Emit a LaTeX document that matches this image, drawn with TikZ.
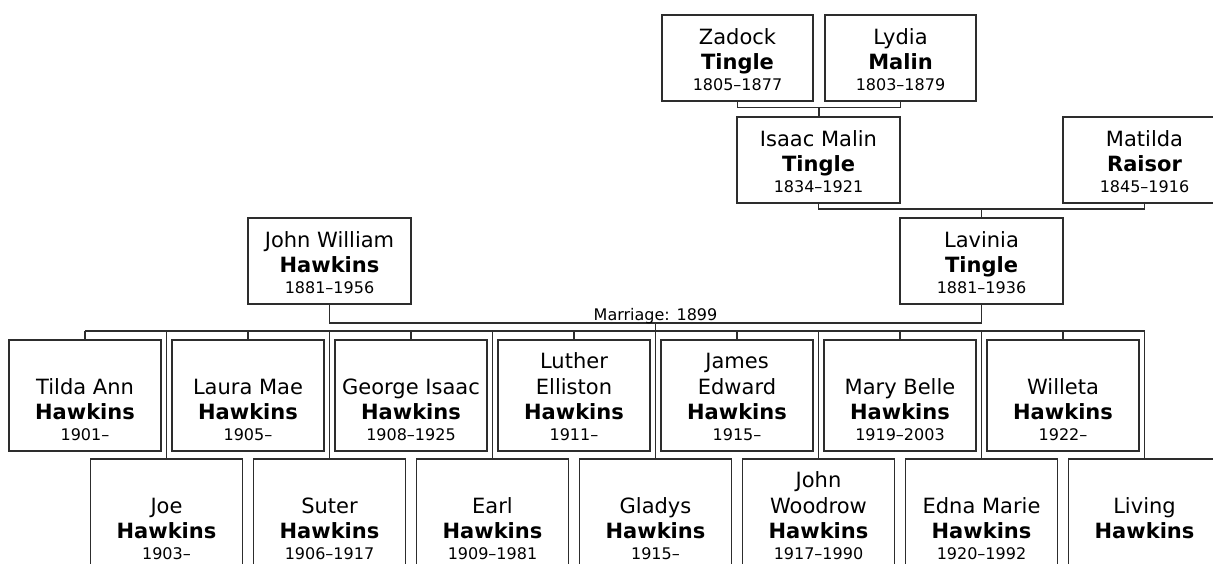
\documentclass[tikz,border=0pt]{standalone}
\usepackage{fontspec}
\setmainfont{DejaVu Sans}
\definecolor{lc}{RGB}{45,45,45}
\newcommand\pcontent[4]{\parbox[c][#2][b]{#1}{\centering\fontsize{21}{25.6}\selectfont #3\par{\fontsize{16}{21}\selectfont #4\par}\vspace*{10pt}}}
\tikzset{
  person/.style={draw=lc, line width=1.8pt, inner sep=0pt, anchor=north, rectangle, text=black},
  conn/.style={draw=lc, line width=1.8pt},
  mlab/.style={anchor=base, inner sep=0pt, font=\fontsize{16}{19}\selectfont},
}
\begin{document}
\begin{tikzpicture}[x=1pt,y=-1pt]
\clip (0,0) rectangle (1213,564);
% ancestors
\node[person] (zadock) at (737.5,14) {\pcontent{151pt}{86pt}{Zadock\par\textbf{Tingle}}{1805–1877}};
\node[person] (lydia) at (900.5,14) {\pcontent{151pt}{86pt}{Lydia\par\textbf{Malin}}{1803–1879}};
\node[person] (isaac) at (818.5,116) {\pcontent{163pt}{86pt}{Isaac Malin\par\textbf{Tingle}}{1834–1921}};
\node[person] (matilda) at (1144.5,116) {\pcontent{163pt}{86pt}{Matilda\par\textbf{Raisor}}{1845–1916}};
\node[person] (lavinia) at (981.5,217) {\pcontent{163pt}{86pt}{Lavinia\par\textbf{Tingle}}{1881–1936}};
\node[person] (john) at (329.5,217) {\pcontent{163pt}{86pt}{John William\par\textbf{Hawkins}}{1881–1956}};
% children, upper row
\node[person] (tilda) at (85,339) {\pcontent{152pt}{111pt}{Tilda Ann\par\textbf{Hawkins}}{1901–}};
\node[person] (laura) at (248,339) {\pcontent{152pt}{111pt}{Laura Mae\par\textbf{Hawkins}}{1905–}};
\node[person] (george) at (411,339) {\pcontent{152pt}{111pt}{George Isaac\par\textbf{Hawkins}}{1908–1925}};
\node[person] (luther) at (574,339) {\pcontent{152pt}{111pt}{Luther\par Elliston\par\textbf{Hawkins}}{1911–}};
\node[person] (james) at (737,339) {\pcontent{152pt}{111pt}{James\par Edward\par\textbf{Hawkins}}{1915–}};
\node[person] (mary) at (900,339) {\pcontent{152pt}{111pt}{Mary Belle\par\textbf{Hawkins}}{1919–2003}};
\node[person] (willeta) at (1063,339) {\pcontent{152pt}{111pt}{Willeta\par\textbf{Hawkins}}{1922–}};
% children, lower row
\node[person] (joe) at (166.5,458) {\pcontent{152pt}{111pt}{Joe\par\textbf{Hawkins}}{1903–}};
\node[person] (suter) at (329.5,458) {\pcontent{152pt}{111pt}{Suter\par\textbf{Hawkins}}{1906–1917}};
\node[person] (earl) at (492.5,458) {\pcontent{152pt}{111pt}{Earl\par\textbf{Hawkins}}{1909–1981}};
\node[person] (gladys) at (655.5,458) {\pcontent{152pt}{111pt}{Gladys\par\textbf{Hawkins}}{1915–}};
\node[person] (johnw) at (818.5,458) {\pcontent{152pt}{111pt}{John\par Woodrow\par\textbf{Hawkins}}{1917–1990}};
\node[person] (edna) at (981.5,458) {\pcontent{152pt}{111pt}{Edna Marie\par\textbf{Hawkins}}{1920–1992}};
\node[person] (living) at (1144.5,458) {\pcontent{152pt}{111pt}{Living\par\textbf{Hawkins}}{\mbox{}}};
% couple junctions
\coordinate (zl) at (819,107.5);
\coordinate (im) at (981.5,209);
\coordinate (mj) at (655.5,323);
\coordinate (barL) at (85,331);
\coordinate (barR) at (1144.5,331);
\draw[conn] (zadock.south) |- (zl) -| (lydia.south);
\draw[conn] (zl) -- (zl |- isaac.north);
\draw[conn] (isaac.south) |- (im) -| (matilda.south);
\draw[conn] (im) -- (lavinia.north);
\draw[conn] (john.south) |- (mj) -| (lavinia.south);
\node[mlab] (mlabel) at ([yshift=3pt]mj) {Marriage: 1899};
\draw[conn] (mj) -- (mj |- barL);
\draw[conn] (barL) -- (barR);
\foreach \c in {tilda,laura,george,luther,james,mary,willeta,joe,suter,earl,gladys,johnw,edna,living}
  \draw[conn] (\c.north) -- (\c.north |- barL);
\end{tikzpicture}
\end{document}
